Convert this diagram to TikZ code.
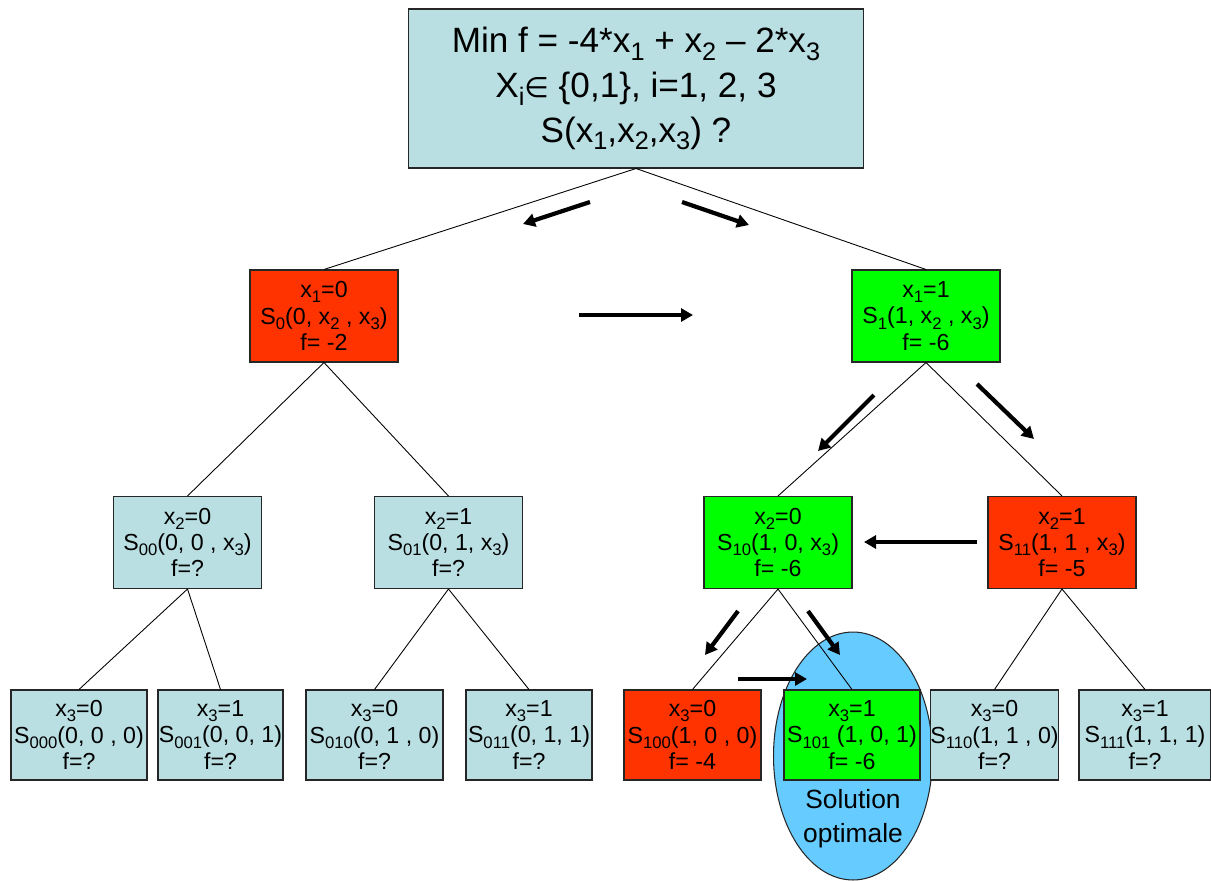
\documentclass[tikz,border=0pt]{standalone}
\usepackage{graphicx}
\usepackage{fontspec}
\setmainfont{Liberation Sans}
\newfontfamily\symbfont{DejaVu Sans}
\usetikzlibrary{arrows.meta,shapes.geometric}
\definecolor{PaleCyan}{RGB}{185,223,227}
\definecolor{CutRed}{RGB}{255,51,0}
\definecolor{KeepGreen}{RGB}{0,255,0}
\definecolor{OptBlue}{RGB}{102,204,255}
\newcommand{\ix}[1]{\raisebox{-0.42ex}{\scalebox{0.72}{#1}}}

\begin{document}
\begin{tikzpicture}[x=0.02cm, y=-0.02cm, every node/.style={align=center}]
\tikzset{
  box/.style={draw=black!85, line width=0.6pt, fill=PaleCyan, minimum width=2.96cm, minimum height=1.84cm, inner sep=0pt, font=\fontsize{13.2}{15}\selectfont},
  leaf/.style={box, minimum width=2.5cm, minimum height=1.8cm},
  cut/.style={fill=CutRed},
  keep/.style={fill=KeepGreen},
  edge/.style={line width=0.5pt},
  arr/.style={-{Triangle[length=0.24cm, width=0.26cm]}, line width=2.4pt}
}
  \useasboundingbox (0,0) rectangle (1211,880);
  \node[ellipse, draw=black!85, line width=0.6pt, fill=OptBlue, minimum width=3.18cm, minimum height=4.96cm, inner sep=0pt] (opt) at (853,756) {};
  \node[font=\fontsize{15}{19.5}\selectfont] (optlabel) at (853,819) {Solution\\optimale};

  \node[box, minimum width=9.12cm, minimum height=3.18cm, font=\fontsize{20}{25.5}\selectfont] (pb) at (636,88.5)
    {Min f = -4*x\ix{1} + x\ix{2} – 2*x\ix{3}\\X\ix{i}{\symbfont\scalebox{0.8}{∈}} \{0,1\}, i=1, 2, 3\\S(x\ix{1},x\ix{2},x\ix{3}) ?};

  \node[box, cut] (s0) at (324,316) {x\ix{1}=0\\S\ix{0}(0, x\ix{2} , x\ix{3})\\f= -2};
  \node[box, keep] (s1) at (926,316) {x\ix{1}=1\\S\ix{1}(1, x\ix{2} , x\ix{3})\\f= -6};

  \node[box] (s00) at (187.5,542.5) {x\ix{2}=0\\S\ix{00}(0, 0 , x\ix{3})\\f=?};
  \node[box] (s01) at (448.5,542.5) {x\ix{2}=1\\S\ix{01}(0, 1, x\ix{3})\\f=?};
  \node[box, keep] (s10) at (778,542.5) {x\ix{2}=0\\S\ix{10}(1, 0, x\ix{3})\\f= -6};
  \node[box, cut] (s11) at (1062,542.5) {x\ix{2}=1\\S\ix{11}(1, 1 , x\ix{3})\\f= -5};

  \node[leaf, minimum width=2.72cm] (s000) at (79,735) {x\ix{3}=0\\S\ix{000}(0, 0 , 0)\\f=?};
  \node[leaf] (s001) at (220.5,735) {x\ix{3}=1\\S\ix{001}(0, 0, 1)\\f=?};
  \node[leaf, minimum width=2.74cm] (s010) at (374.5,735) {x\ix{3}=0\\S\ix{010}(0, 1 , 0)\\f=?};
  \node[leaf, minimum width=2.52cm] (s011) at (529,735) {x\ix{3}=1\\S\ix{011}(0, 1, 1)\\f=?};
  \node[leaf, cut, minimum width=2.74cm] (s100) at (692.5,735) {x\ix{3}=0\\S\ix{100}(1, 0 , 0)\\f= -4};
  \node[leaf, keep, minimum width=2.72cm] (s101) at (852,735) {x\ix{3}=1\\S\ix{101} (1, 0, 1)\\f= -6};
  \node[leaf] (s110) at (994.5,735) {x\ix{3}=0\\S\ix{110}(1, 1 , 0)\\f=?};
  \node[leaf, minimum width=2.64cm] (s111) at (1145,735) {x\ix{3}=1\\S\ix{111}(1, 1, 1)\\f=?};

  \draw[edge] (pb.south) -- (s0.north);
  \draw[edge] (pb.south) -- (s1.north);
  \draw[edge] (s0.south) -- (s00.north);
  \draw[edge] (s0.south) -- (s01.north);
  \draw[edge] (s1.south) -- (s10.north);
  \draw[edge] (s1.south) -- (s11.north);
  \draw[edge] (s00.south) -- (s000.north);
  \draw[edge] (s00.south) -- (s001.north);
  \draw[edge] (s01.south) -- (s010.north);
  \draw[edge] (s01.south) -- (s011.north);
  \draw[edge] (s10.south) -- (s100.north);
  \draw[edge] (s10.south) -- (s101.north);
  \draw[edge] (s11.south) -- (s110.north);
  \draw[edge] (s11.south) -- (s111.north);

  \coordinate (goLs) at (590,202);  \coordinate (goLe) at (523,224);
  \coordinate (goRs) at (682,202);  \coordinate (goRe) at (749,225);
  \coordinate (jumps) at (579,315); \coordinate (jumpe) at (693,315);
  \coordinate (g1Ls) at (874,395);  \coordinate (g1Le) at (818,451);
  \coordinate (g1Rs) at (977,384);  \coordinate (g1Re) at (1034,439);
  \coordinate (backs) at (977,542); \coordinate (backe) at (864,542);
  \coordinate (g10Ls) at (738,611); \coordinate (g10Le) at (705,655);
  \coordinate (g10Rs) at (808,611); \coordinate (g10Re) at (840,655);
  \coordinate (nexts) at (738,679); \coordinate (nexte) at (807,679);

  \draw[arr] (goLs) -- (goLe);
  \draw[arr] (goRs) -- (goRe);
  \draw[arr] (jumps) -- (jumpe);
  \draw[arr] (g1Ls) -- (g1Le);
  \draw[arr] (g1Rs) -- (g1Re);
  \draw[arr] (backs) -- (backe);
  \draw[arr] (g10Ls) -- (g10Le);
  \draw[arr] (g10Rs) -- (g10Re);
  \draw[arr] (nexts) -- (nexte);
\end{tikzpicture}
\end{document}
